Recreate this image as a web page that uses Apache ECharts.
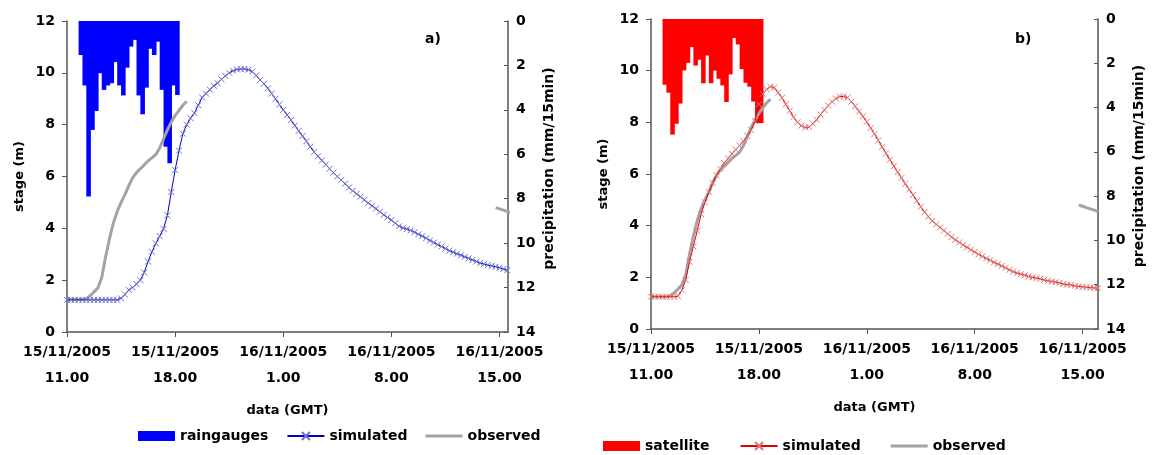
<!DOCTYPE html>
<html>
<head>
<meta charset="utf-8">
<script src="https://cdn.jsdelivr.net/npm/echarts@6/dist/echarts.min.js"></script>
<style>
  html, body { margin: 0; padding: 0; background: #fff; }
  #chart { width: 1156px; height: 455px; }
</style>
</head>
<body>
<div id="chart"></div>
<script>
// time step of the series, hours (15 min)
const step = 0.25;
// axis ticks, hours after 15/11/2005 11.00
const tickHours = [0, 7, 14, 21, 28];
const tickLabels = ['15/11/2005\n11.00', '15/11/2005\n18.00', '16/11/2005\n1.00', '16/11/2005\n8.00', '16/11/2005\n15.00'];

// precipitation, mm/15min, first bar 11.45-12.00
const rainStart = 0.75;
const rainGauges = [1.53, 2.9, 7.9, 4.9, 4.05, 2.35, 3.1, 2.9, 2.8, 1.85, 2.9, 3.35, 2.1, 1.15, 0.85, 3.35, 4.2, 3.0, 1.25, 1.53, 0.93, 3.1, 5.66, 6.4, 2.9, 3.33];
const rainSatellite = [2.97, 3.33, 5.22, 4.73, 3.82, 2.32, 1.98, 1.27, 2.1, 1.84, 2.9, 1.65, 2.9, 2.33, 2.7, 3.0, 3.75, 2.5, 0.86, 1.15, 2.26, 2.88, 3.06, 3.73, 4.7, 4.7];

// stage (m), simulated with raingauges
const simGauges = [1.24, 1.24, 1.24, 1.24, 1.24, 1.24, 1.24, 1.24, 1.24, 1.24, 1.24, 1.24, 1.24, 1.24,
  1.3, 1.45, 1.62, 1.72, 1.85, 2.0, 2.3, 2.72, 3.1, 3.42, 3.7, 3.98, 4.5, 5.4, 6.25, 7.0,
  7.65, 8.0, 8.25, 8.45, 8.75, 9.05, 9.2, 9.35, 9.5, 9.6, 9.75, 9.88, 10.0, 10.08, 10.13, 10.15,
  10.15, 10.12, 10.05, 9.9, 9.72, 9.58, 9.4, 9.2, 9.0, 8.78, 8.57, 8.38, 8.18, 7.97, 7.76, 7.56,
  7.36, 7.15, 6.94, 6.78, 6.62, 6.46, 6.3, 6.15, 6.0, 5.86, 5.72, 5.57, 5.45, 5.33, 5.22, 5.1,
  4.98, 4.87, 4.76, 4.64, 4.52, 4.42, 4.32, 4.2, 4.08, 4.02, 3.97, 3.92, 3.85, 3.77, 3.7, 3.62,
  3.53, 3.45, 3.37, 3.3, 3.22, 3.14, 3.08, 3.02, 2.96, 2.9, 2.84, 2.78, 2.72, 2.66, 2.62, 2.58,
  2.55, 2.52, 2.48, 2.43, 2.38];

// stage (m), simulated with satellite
const simSatellite = [1.25, 1.25, 1.25, 1.25, 1.25, 1.25, 1.25, 1.27, 1.5, 1.9, 2.6, 3.2, 3.8, 4.45,
  4.9, 5.3, 5.65, 5.95, 6.2, 6.42, 6.6, 6.78, 6.95, 7.1, 7.28, 7.47, 7.7, 8.05, 8.7, 9.1,
  9.28, 9.38, 9.35, 9.15, 8.95, 8.7, 8.45, 8.2, 8.0, 7.87, 7.8, 7.82, 7.95, 8.1, 8.3, 8.48,
  8.65, 8.8, 8.92, 9.0, 9.0, 8.96, 8.8, 8.62, 8.42, 8.23, 8.02, 7.78, 7.55, 7.3, 7.05, 6.8,
  6.55, 6.3, 6.08, 5.85, 5.62, 5.4, 5.19, 4.96, 4.73, 4.52, 4.35, 4.18, 4.05, 3.93, 3.81, 3.68,
  3.56, 3.45, 3.35, 3.25, 3.16, 3.07, 2.98, 2.89, 2.81, 2.73, 2.66, 2.58, 2.51, 2.44, 2.37, 2.29,
  2.22, 2.17, 2.12, 2.08, 2.03, 2.0, 1.97, 1.94, 1.9, 1.87, 1.84, 1.81, 1.78, 1.74, 1.72, 1.7,
  1.67, 1.65, 1.63, 1.62, 1.6, 1.59, 1.58];

// observed stage (m): rising limb from 11.00, then a short piece at the end
const obsRise = [1.25, 1.25, 1.25, 1.25, 1.25, 1.27, 1.4, 1.55, 1.7, 2.1, 2.9, 3.6, 4.2, 4.65, 5.0, 5.3,
  5.65, 5.95, 6.15, 6.3, 6.45, 6.6, 6.72, 6.85, 7.1, 7.45, 7.8, 8.1, 8.35, 8.55, 8.75, 8.9];
const obsTailStart = 27.75;
const obsTail = [4.8, 4.75, 4.7, 4.65, 4.6, 4.55];

const FONT = 'DejaVu Sans';
const txt = { fontFamily: FONT, fontWeight: 'bold', fontSize: 14, color: '#000' };
const cross = 'path://M0,0L10,10M0,10L10,0';
// thin bar for the "observed" legend entry (the two dots keep the box 10 high)
const lineIcon = 'path://M0,0L0.01,0M0,10L0.01,10M0,3.6H37V6.4H0Z';

function series(vals, t0) {
  return vals.map((v, i) => [t0 + i * step, v]);
}
const observed = series(obsRise, 0).concat([[obsRise.length * step, null]], series(obsTail, obsTailStart));

// precipitation bars hang from the top of the inverted axis, one per 15 min
function rainBar(params, api) {
  const t = api.value(0);
  const a = api.coord([t, 0]);
  const b = api.coord([t + step, api.value(1)]);
  return {
    type: 'rect',
    shape: { x: a[0], y: a[1], width: b[0] - a[0] + 0.7, height: b[1] - a[1] },
    style: { fill: api.visual('color') }
  };
}

function panel(k, g, xMax, rainName, rain, rainColor, sim, lineColor, crossColor) {
  const xAxis = {
    type: 'value', gridIndex: k, min: 0, max: xMax, interval: 7,
    splitLine: { show: false },
    axisLine: { lineStyle: { color: '#555', width: 1.5 } },
    axisTick: { length: 5, lineStyle: { color: '#555' } },
    axisLabel: {
      ...txt, margin: 7, lineHeight: 26, showMaxLabel: false,
      formatter: v => { const j = tickHours.indexOf(v); return j < 0 ? '' : tickLabels[j]; }
    },
    name: 'data (GMT)', nameLocation: 'middle', nameGap: 72,
    nameTextStyle: { ...txt, fontSize: 13 }
  };
  const yStage = {
    type: 'value', gridIndex: k, min: 0, max: 12, interval: 2, position: 'left',
    splitLine: { show: false },
    axisLine: { show: true, lineStyle: { color: '#555', width: 1.5 } },
    axisTick: { show: true, length: 5, lineStyle: { color: '#555' } },
    axisLabel: { ...txt, margin: 12 },
    name: 'stage (m)', nameLocation: 'middle', nameGap: 41, nameRotate: 90,
    nameTextStyle: { ...txt, fontSize: 13 }
  };
  const yRain = {
    type: 'value', gridIndex: k, min: 0, max: 14, interval: 2, position: 'right', inverse: true,
    splitLine: { show: false },
    axisLine: { show: true, lineStyle: { color: '#555', width: 1.5 } },
    axisTick: { show: true, inside: true, length: 4, lineStyle: { color: '#555' } },
    axisLabel: { ...txt, margin: 8 },
    name: 'precipitation (mm/15min)', nameLocation: 'middle', nameGap: 34, nameRotate: 90,
    nameTextStyle: { ...txt, padding: [0, 0, 0, 16] }
  };
  const tag = '#' + k;
  const s = [
    {
      name: rainName, type: 'custom', xAxisIndex: k, yAxisIndex: 2 * k + 1,
      data: series(rain, rainStart), renderItem: rainBar, clip: true,
      encode: { x: 0, y: 1 }, itemStyle: { color: rainColor }, z: 1
    },
    {
      name: 'observed' + tag, type: 'line', xAxisIndex: k, yAxisIndex: 2 * k,
      data: observed, symbol: 'none', connectNulls: false,
      lineStyle: { color: '#a3a3a3', width: 3 }, itemStyle: { color: '#a3a3a3' }, z: 2
    },
    {
      name: 'simulated' + tag, type: 'line', xAxisIndex: k, yAxisIndex: 2 * k,
      data: series(sim, 0), symbol: cross, symbolSize: 6, showAllSymbol: true,
      lineStyle: { color: lineColor, width: 1 },
      itemStyle: { color: crossColor, borderColor: crossColor, borderWidth: 1 }, z: 3
    }
  ];
  return {
    grid: g, xAxis, yAxes: [yStage, yRain], series: s,
    legendData: [{ name: rainName, icon: 'rect' }, 'simulated' + tag, { name: 'observed' + tag, icon: lineIcon }]
  };
}

const A = panel(0, { left: 67, top: 21, width: 441, height: 311 }, 28.55, 'raingauges', rainGauges, '#0000ff', simGauges, '#0000c8', '#6f6fcf');
const B = panel(1, { left: 651, top: 19, width: 447, height: 310 }, 29, 'satellite', rainSatellite, '#ff0000', simSatellite, '#e00000', '#e07272');

const legendBase = {
  orient: 'horizontal', itemWidth: 37, itemHeight: 10, padding: 0, textStyle: { ...txt },
  formatter: n => n.replace(/#.*/, ''), selectedMode: false
};

const chart = echarts.init(document.getElementById('chart'));
chart.setOption({
  animation: false,
  backgroundColor: '#fff',
  title: [
    { text: 'a)', left: 420, top: 27, textStyle: { ...txt } },
    { text: 'b)', left: 1010, top: 27, textStyle: { ...txt } }
  ],
  legend: [
    { ...legendBase, left: 138, top: 429, itemGap: 18, data: A.legendData },
    { ...legendBase, left: 603, top: 439, itemGap: 30, data: B.legendData }
  ],
  grid: [A.grid, B.grid],
  xAxis: [A.xAxis, B.xAxis],
  yAxis: [...A.yAxes, ...B.yAxes],
  series: [...A.series, ...B.series]
});
</script>
</body>
</html>
